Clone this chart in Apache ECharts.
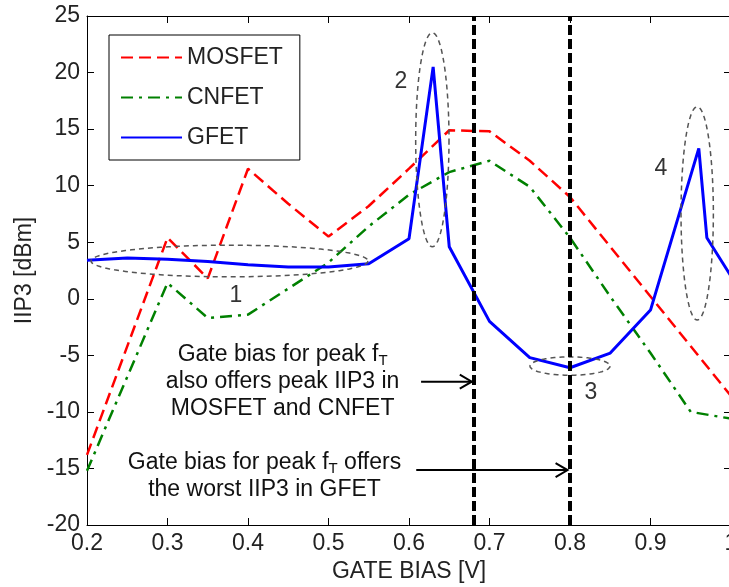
<!DOCTYPE html>
<html>
<head>
<meta charset="utf-8">
<script src="https://cdn.jsdelivr.net/npm/echarts@6/dist/echarts.min.js"></script>
<style>
html,body{margin:0;padding:0;background:#fff;}
#chart{width:729px;height:587px;}
</style>
</head>
<body>
<div id="chart"></div>
<script>
// ---- data ----
const xMos = [0.2, 0.3, 0.35, 0.4, 0.45, 0.5, 0.55, 0.6, 0.65, 0.7, 0.75, 0.8, 0.85, 0.9, 0.95, 1.0];
const yMos = [-13.8, 5.4, 1.8, 11.5, 8.4, 5.5, 8.2, 11.5, 14.9, 14.8, 12.2, 9.0, 4.6, 0.2, -4.2, -8.6];
const xCn = [0.2, 0.3, 0.35, 0.4, 0.45, 0.5, 0.55, 0.6, 0.65, 0.7, 0.75, 0.8, 0.85, 0.9, 0.95, 1.0];
const yCn = [-15.2, 1.4, -1.7, -1.4, 0.9, 3.2, 6.4, 9.2, 11.2, 12.2, 9.9, 5.4, 0.2, -4.8, -10.0, -10.6];
const xG = [0.2, 0.25, 0.3, 0.35, 0.4, 0.45, 0.5, 0.55, 0.6, 0.63, 0.65, 0.7, 0.75, 0.8, 0.85, 0.9, 0.96, 0.97, 1.0];
const yG = [3.4, 3.6, 3.5, 3.3, 3.0, 2.8, 2.8, 3.1, 5.3, 20.5, 4.6, -2.0, -5.2, -6.1, -4.8, -1.0, 13.3, 5.4, 2.0];
const seriesNames = ['MOSFET', 'CNFET', 'GFET'];
const xTicks = ['0.2', '0.3', '0.4', '0.5', '0.6', '0.7', '0.8', '0.9', '1'];
const yTicks = [-20, -15, -10, -5, 0, 5, 10, 15, 20, 25];
const vLines = [0.68, 0.8];
// ellipse annotations: centre x, centre y, radius x, radius y
const ellCx = [0.377, 0.629, 0.8, 0.958];
const ellCy = [3.34, 14.06, -5.95, 7.55];
const ellRx = [0.172, 0.0207, 0.0497, 0.0201];
const ellRy = [1.4, 9.46, 0.81, 9.43];
const numText = ['1', '2', '3', '4'];
const numX = [0.385, 0.590, 0.826, 0.913];
const numY = [0.24, 19.2, -8.33, 11.53];
// text annotations
const noteText = [
  'Gate bias for peak f{s|T}\nalso offers peak IIP3 in\nMOSFET and CNFET',
  'Gate bias for peak f{s|T} offers\nthe worst IIP3 in GFET'
];
const noteX = [0.443, 0.4205];
const noteY = [-7.36, -15.72];
// arrows: start x, end x, y
const arrX1 = [0.615, 0.609];
const arrX2 = [0.678, 0.797];
const arrY = [-7.33, -15.14];

const zip = (xs, ys) => xs.map((x, i) => [x, ys[i]]);
const FONT = 'Liberation Sans, Arial, sans-serif';

const chart = echarts.init(document.getElementById('chart'), null, {renderer: 'canvas'});

const axisCommon = {
  axisLine: {show: true, onZero: false, lineStyle: {color: '#000', width: 1}},
  axisTick: {show: true, inside: true, length: 7, lineStyle: {color: '#000'}},
  splitLine: {show: false}
};

const option = {
  animation: false,
  backgroundColor: '#fff',
  grid: {left: 87, top: 16, width: 644, height: 509, containLabel: false, outerBoundsMode: 'none'},
  legend: {
    show: true,
    data: seriesNames,
    orient: 'vertical',
    left: 109, top: 35,
    padding: [11, 17, 11, 11],
    itemWidth: 61, itemHeight: 14, itemGap: 17,
    borderColor: '#000', borderWidth: 1,
    backgroundColor: '#fff',
    itemStyle: {opacity: 0},
    textStyle: {fontSize: 23, color: '#222', fontFamily: FONT}
  },
  xAxis: [
    Object.assign({}, axisCommon, {
      type: 'value', position: 'bottom', min: 0.2, max: 1.0, interval: 0.1,
      name: 'GATE BIAS [V]', nameLocation: 'middle', nameGap: 33,
      nameTextStyle: {fontSize: 23, color: '#222', fontFamily: FONT},
      axisLabel: {margin: 7, fontSize: 23, color: '#222', fontFamily: FONT,
        formatter: v => xTicks[Math.round((v - 0.2) * 10)] || ''}
    }),
    Object.assign({}, axisCommon, {
      type: 'value', position: 'top', min: 0.2, max: 1.0, interval: 0.1,
      axisLabel: {show: false}
    })
  ],
  yAxis: [
    Object.assign({}, axisCommon, {
      type: 'value', position: 'left', min: yTicks[0], max: yTicks[yTicks.length - 1], interval: 5,
      name: 'IIP3 [dBm]', nameLocation: 'middle', nameGap: 41, nameRotate: 90,
      nameTextStyle: {fontSize: 23, color: '#222', fontFamily: FONT},
      axisLabel: {margin: 7, fontSize: 23, color: '#222', fontFamily: FONT}
    }),
    Object.assign({}, axisCommon, {
      type: 'value', position: 'right', min: yTicks[0], max: yTicks[yTicks.length - 1], interval: 5,
      axisLabel: {show: false}
    })
  ],
  series: [
    {
      name: seriesNames[0], type: 'line', data: zip(xMos, yMos), symbol: 'none',
      lineStyle: {color: '#ff0000', width: 2.5, type: [12, 6]},
      itemStyle: {color: '#ff0000'}, z: 3,
      markLine: {
        silent: true, symbol: ['none', 'none'], label: {show: false},
        lineStyle: {color: '#000', width: 4, type: [10, 4]},
        data: vLines.map(v => ({xAxis: v})), z: 6
      }
    },
    {
      name: seriesNames[1], type: 'line', data: zip(xCn, yCn), symbol: 'none',
      lineStyle: {color: '#008000', width: 2.5, type: [12, 6, 3, 6]},
      itemStyle: {color: '#008000'}, z: 3
    },
    {
      name: seriesNames[2], type: 'line', data: zip(xG, yG), symbol: 'none',
      lineStyle: {color: '#0000ff', width: 3}, itemStyle: {color: '#0000ff'}, z: 4
    },
    {
      type: 'custom', name: 'ellipses', silent: true, z: 5,
      data: ellCx.map((c, i) => [c, ellCy[i], ellRx[i], ellRy[i]]),
      encode: {x: 0, y: 1},
      renderItem: function (params, api) {
        const c = api.coord([api.value(0), api.value(1)]);
        const p = api.coord([api.value(0) + api.value(2), api.value(1) + api.value(3)]);
        const rx = p[0] - c[0], ry = c[1] - p[1];
        const pts = [];
        for (let k = 0; k < 96; k++) {
          const t = k / 96 * Math.PI * 2;
          pts.push([c[0] + rx * Math.cos(t), c[1] + ry * Math.sin(t)]);
        }
        return {type: 'polygon', shape: {points: pts},
          style: {fill: 'none', stroke: '#555', lineWidth: 1.5, lineDash: [5, 4]}};
      }
    },
    {
      type: 'custom', name: 'numbers', silent: true, z: 7,
      data: numX.map((x, i) => [x, numY[i]]),
      encode: {x: 0, y: 1},
      renderItem: function (params, api) {
        const c = api.coord([api.value(0), api.value(1)]);
        return {type: 'text', style: {text: numText[params.dataIndex], x: c[0], y: c[1],
          align: 'center', verticalAlign: 'middle', fill: '#333',
          font: '23px ' + FONT}};
      }
    },
    {
      type: 'custom', name: 'notes', silent: true, z: 7,
      data: noteX.map((x, i) => [x, noteY[i]]),
      encode: {x: 0, y: 1},
      renderItem: function (params, api) {
        const c = api.coord([api.value(0), api.value(1)]);
        return {type: 'text', style: {text: noteText[params.dataIndex], x: c[0], y: c[1],
          align: 'center', verticalAlign: 'middle', fill: '#111',
          fontSize: 23, fontFamily: FONT, lineHeight: 27,
          rich: {s: {fontSize: 15, fontFamily: FONT, fill: '#111', verticalAlign: 'bottom', lineHeight: 27}}}};
      }
    },
    {
      type: 'custom', name: 'arrows', silent: true, z: 7,
      data: arrX1.map((x, i) => [x, arrY[i], arrX2[i]]),
      encode: {x: [0, 2], y: 1},
      renderItem: function (params, api) {
        const a = api.coord([api.value(0), api.value(1)]);
        const b = api.coord([api.value(2), api.value(1)]);
        return {type: 'group', children: [
          {type: 'line', shape: {x1: a[0], y1: a[1], x2: b[0], y2: b[1]},
            style: {stroke: '#000', lineWidth: 2}},
          {type: 'polyline', shape: {points: [[b[0] - 12, b[1] - 7], [b[0], b[1]], [b[0] - 12, b[1] + 7]]},
            style: {stroke: '#000', fill: 'none', lineWidth: 2}}
        ]};
      }
    }
  ]
};
chart.setOption(option);
</script>
</body>
</html>
